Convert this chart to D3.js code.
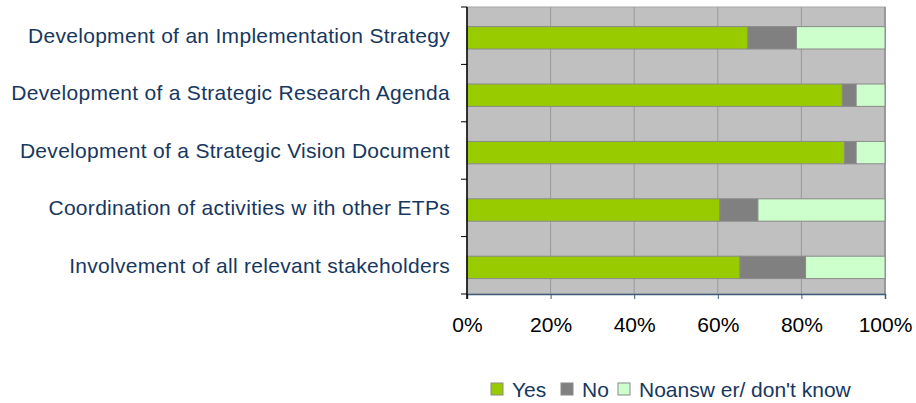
<!DOCTYPE html>
<html>
<head>
<meta charset="utf-8">
<script src="https://cdn.jsdelivr.net/npm/d3@7"></script>
<style>
  body { margin: 0; background: #fff; }
  svg text { font-family: "Liberation Sans", Arial, sans-serif; }
</style>
</head>
<body>
<div id="chart"></div>
<script>
// chart data (percent of answers)
var categories = [
  "Development of an Implementation Strategy",
  "Development of a Strategic Research Agenda",
  "Development of a Strategic Vision Document",
  "Coordination of activities w ith other ETPs",
  "Involvement of all relevant stakeholders"
];
var seriesNames = ["Yes", "No", "Noansw er/ don't know"];
var yesValues = [67.2, 89.8, 90.3, 60.5, 65.3];
var noValues  = [11.6, 3.3, 2.8, 9.1, 15.7];
var naValues  = [21.2, 6.9, 6.9, 30.4, 19.0];
var xTicks = [0, 20, 40, 60, 80, 100];

var colors = ["#99cc00", "#808080", "#ccffcc"];

// set the dimensions and margins of the graph
var margin = {top: 7, right: 31, bottom: 109, left: 467},
    width = 916 - margin.left - margin.right,
    height = 403 - margin.top - margin.bottom;

var svg = d3.select("#chart").append("svg")
    .attr("width", 916)
    .attr("height", 403);

var g = svg.append("g")
    .attr("transform", "translate(" + margin.left + "," + margin.top + ")");

// scales
var x = d3.scaleLinear().domain([0, 100]).range([0, width]);
var y = d3.scaleBand().domain(categories).range([0, height])
    .paddingInner(0.61).paddingOuter(0.305).align(0.56);

// build stacked rows
var rows = categories.map(function(c, i) {
  return {cat: c, Yes: yesValues[i], No: noValues[i], NA: naValues[i]};
});
var stack = d3.stack().keys(["Yes", "No", "NA"]);
var layers = stack(rows);

// plot background
g.append("rect")
    .attr("width", width)
    .attr("height", height)
    .attr("fill", "#c0c0c0")
    .attr("stroke", "#a6a6a6")
    .attr("stroke-width", 1);

// vertical grid lines
g.selectAll(".grid")
    .data(xTicks.slice(1, -1))
  .enter().append("line")
    .attr("class", "grid")
    .attr("x1", function(d) { return x(d); })
    .attr("x2", function(d) { return x(d); })
    .attr("y1", 0)
    .attr("y2", height)
    .attr("stroke", "#999999")
    .attr("stroke-width", 1);

// right border
g.append("line")
    .attr("x1", width).attr("x2", width)
    .attr("y1", 0).attr("y2", height)
    .attr("stroke", "#8c8c8c").attr("stroke-width", 1.5);

// bars
g.selectAll(".layer")
    .data(layers)
  .enter().append("g")
    .attr("class", "layer")
    .attr("fill", function(d, i) { return colors[i]; })
  .selectAll("rect")
    .data(function(d) { return d; })
  .enter().append("rect")
    .attr("x", function(d) { return x(d[0]); })
    .attr("y", function(d) { return y(d.data.cat); })
    .attr("width", function(d) { return x(d[1]) - x(d[0]); })
    .attr("height", y.bandwidth())
    .attr("stroke", "#8a8a8a")
    .attr("stroke-width", 1);

// x axis
var xAxis = g.append("g")
    .attr("transform", "translate(0," + height + ")")
    .call(d3.axisBottom(x).tickValues(xTicks).tickSize(5).tickPadding(18)
      .tickFormat(function(d) { return d + "%"; }));
xAxis.select(".domain").attr("stroke", "#3f5a7a").attr("stroke-width", 1.5);
xAxis.selectAll(".tick line").attr("stroke", "#3f5a7a");
xAxis.selectAll("text")
    .attr("fill", "#000")
    .style("font-size", "21px");

// y axis: line with ticks at band boundaries
g.append("line")
    .attr("x1", 0).attr("x2", 0)
    .attr("y1", 0).attr("y2", height + 5)
    .attr("stroke", "#000").attr("stroke-width", 1.5);

var step = height / categories.length;
g.selectAll(".ytick")
    .data(d3.range(categories.length + 1))
  .enter().append("line")
    .attr("class", "ytick")
    .attr("x1", -6).attr("x2", 0)
    .attr("y1", function(i) { return i * step; })
    .attr("y2", function(i) { return i * step; })
    .attr("stroke", "#000").attr("stroke-width", 1);

// category labels, centred in each category slot
g.selectAll(".cat")
    .data(categories)
  .enter().append("text")
    .attr("class", "cat")
    .attr("x", -17)
    .attr("y", function(d, i) { return i * step + step / 2; })
    .attr("dy", "0.35em")
    .attr("text-anchor", "end")
    .attr("fill", "#17375e")
    .style("font-size", "21px")
    .style("letter-spacing", "0.3px")
    .text(function(d) { return d; });

// legend
var legendX = [491, 561, 618];
var legend = svg.selectAll(".legend")
    .data(seriesNames)
  .enter().append("g")
    .attr("class", "legend")
    .attr("transform", function(d, i) { return "translate(" + legendX[i] + ",383)"; });

legend.append("rect")
    .attr("width", 12)
    .attr("height", 12)
    .attr("fill", function(d, i) { return colors[i]; })
    .attr("stroke", "#8a8a8a")
    .attr("stroke-width", 1);

legend.append("text")
    .attr("x", 21)
    .attr("y", 6.5)
    .attr("dy", "0.35em")
    .attr("fill", "#17375e")
    .style("font-size", "21px")
    .text(function(d) { return d; });
</script>
</body>
</html>
